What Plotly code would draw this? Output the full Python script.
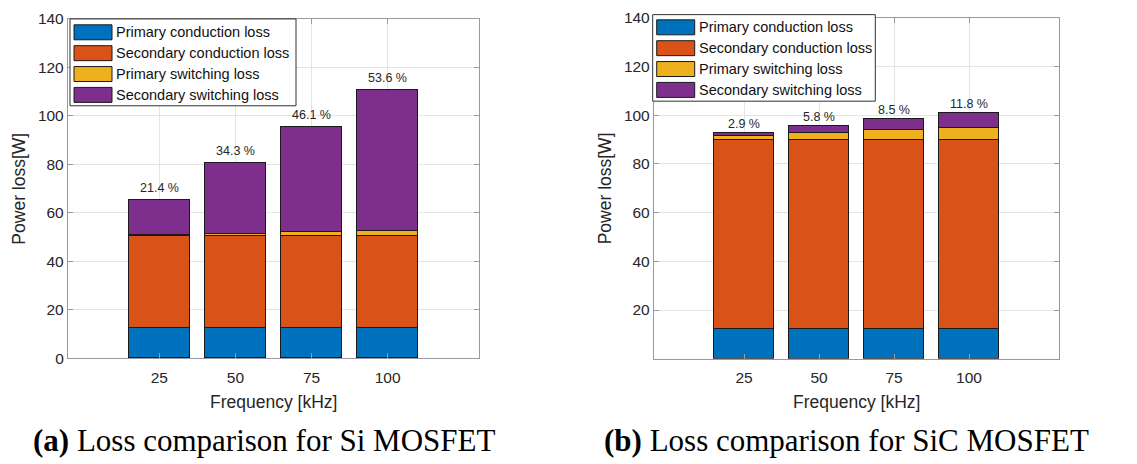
import plotly.graph_objects as go

# ---- data -------------------------------------------------------------
freq_khz = [25, 50, 75, 100]
freq_labels = ["25", "50", "75", "100"]

loss_names = [
    "Primary conduction loss",
    "Secondary conduction loss",
    "Primary switching loss",
    "Secondary switching loss",
]
loss_colors = ["#0072BD", "#D95319", "#EDB120", "#7E2F8E"]

# Si MOSFET losses [W]
si_primary_cond = [12.6, 12.6, 12.6, 12.6]
si_secondary_cond = [37.9, 37.9, 37.9, 37.9]
si_primary_sw = [0.3, 0.9, 1.5, 2.2]
si_secondary_sw = [14.7, 29.1, 43.6, 58.0]
si_share_labels = ["21.4 %", "34.3 %", "46.1 %", "53.6 %"]

# SiC MOSFET losses [W]
sic_primary_cond = [12.2, 12.2, 12.2, 12.2]
sic_secondary_cond = [77.7, 77.7, 77.7, 77.7]
sic_primary_sw = [1.5, 2.9, 4.1, 5.1]
sic_secondary_sw = [1.5, 3.0, 4.5, 6.0]
sic_share_labels = ["2.9 %", "5.8 %", "8.5 %", "11.8 %"]

y_ticks_si = [0, 20, 40, 60, 80, 100, 120, 140]
y_ticks_sic = [20, 40, 60, 80, 100, 120, 140]

# ---- page geometry (pixels) -------------------------------------------
W, H = 1137, 464
# vertical placement of the drawing area inside the page
TOP_OFF, DRAW_H = 8.35, 447.8


def px(x):
    return x / W


def py(y):
    return 1 - (y - TOP_OFF) / DRAW_H


SANS = "Liberation Sans, Arial, Helvetica, sans-serif"
SERIF = "Liberation Serif, Times New Roman, serif"
TXT = "#262626"
AXC = "#9a9a9a"
GRID = "#e4e4e4"

panels = [
    dict(xa="x", ya="y", x0=68, x1=479, y0=18.3, y1=358.3,
         series=[si_primary_cond, si_secondary_cond, si_primary_sw, si_secondary_sw],
         shares=si_share_labels, share_shift=3, yticks=y_ticks_si,
         legend_box=(70, 18.3, 296, 105.3), legend_row0=13.4,
         caption=("(a)", " Loss comparison for Si MOSFET"), caption_x=264),
    dict(xa="x2", ya="y2", x0=654, x1=1059, y0=17.3, y1=358.7,
         series=[sic_primary_cond, sic_secondary_cond, sic_primary_sw, sic_secondary_sw],
         shares=sic_share_labels, share_shift=0, yticks=y_ticks_sic,
         legend_box=(652.7, 14, 875.3, 100.7), legend_row0=12.7,
         caption=("(b)", " Loss comparison for SiC MOSFET"), caption_x=846),
]

fig = go.Figure()
shapes = []
annotations = []

for i, p in enumerate(panels):
    # stacked bars
    for name, color, vals in zip(loss_names, loss_colors, p["series"]):
        fig.add_trace(go.Bar(
            x=freq_khz, y=vals, name=name, width=20,
            marker=dict(color=color, line=dict(color="#1a1a1a", width=1)),
            xaxis=p["xa"], yaxis=p["ya"], showlegend=False,
        ))

    # share labels above each bar
    totals = [sum(v) for v in zip(*p["series"])]
    for f, tot, lab in zip(freq_khz, totals, p["shares"]):
        annotations.append(dict(
            x=f, y=tot, xref=p["xa"], yref=p["ya"], text=lab, showarrow=False,
            yanchor="bottom", yshift=p["share_shift"],
            font=dict(family=SANS, size=12.5, color=TXT),
        ))

    # legend drawn in the upper-left corner
    bx0, by0, bx1, by1 = p["legend_box"]
    shapes.append(dict(type="rect", xref="paper", yref="paper",
                       x0=px(bx0), x1=px(bx1), y0=py(by0), y1=py(by1),
                       fillcolor="white", line=dict(color="#303030", width=1)))
    for k, (name, color) in enumerate(zip(loss_names, loss_colors)):
        cy = by0 + p["legend_row0"] + 20.9 * k
        shapes.append(dict(type="rect", xref="paper", yref="paper",
                           x0=px(bx0 + 4), x1=px(bx0 + 42),
                           y0=py(cy - 7.5), y1=py(cy + 7.5),
                           fillcolor=color, line=dict(color="#1a1a1a", width=1)))
        annotations.append(dict(
            x=px(bx0 + 44), y=py(cy), xref="paper", yref="paper", text=name,
            showarrow=False, xanchor="left", yanchor="middle",
            font=dict(family=SANS, size=14.5, color="#111111"),
        ))

    # axis titles
    xc = (p["x0"] + p["x1"]) / 2
    annotations.append(dict(
        x=px(xc), y=py(402), xref="paper", yref="paper", text="Frequency [kHz]",
        showarrow=False, xanchor="center", yanchor="middle",
        font=dict(family=SANS, size=17.5, color=TXT),
    ))
    annotations.append(dict(
        x=px(p["x0"] - 49), y=py((p["y0"] + p["y1"]) / 2), xref="paper", yref="paper",
        text="Power loss[W]", textangle=-90, showarrow=False,
        xanchor="center", yanchor="middle",
        font=dict(family=SANS, size=17.5, color=TXT),
    ))

    # caption
    tag, rest = p["caption"]
    annotations.append(dict(
        x=px(p["caption_x"]), y=py(441), xref="paper", yref="paper",
        text=f"<b>{tag}</b>{rest}", showarrow=False,
        xanchor="center", yanchor="middle",
        font=dict(family=SERIF, size=31, color="black"),
    ))

    axis_common = dict(
        showline=True, linecolor=AXC, linewidth=1.3, mirror="ticks",
        ticks="inside", ticklen=5, tickcolor=AXC, tickwidth=1,
        showgrid=True, gridcolor=GRID, gridwidth=1, zeroline=False,
        tickfont=dict(family=SANS, size=15.5, color=TXT),
    )
    xkey = "xaxis" if i == 0 else "xaxis2"
    ykey = "yaxis" if i == 0 else "yaxis2"
    fig.update_layout(**{
        xkey: dict(axis_common, domain=[px(p["x0"]), px(p["x1"])], range=[-5, 130],
                   tickvals=freq_khz, ticktext=freq_labels, anchor=p["ya"],
                   ticklabelstandoff=5),
        ykey: dict(axis_common, domain=[py(p["y1"]), py(p["y0"])], range=[0, 140],
                   tickvals=p["yticks"], anchor=p["xa"]),
    })

fig.update_layout(
    width=W, height=H, barmode="stack", bargap=0,
    margin=dict(l=0, r=0, t=0, b=0),
    paper_bgcolor="white", plot_bgcolor="white",
    shapes=shapes, annotations=annotations,
    showlegend=False,
)

fig.write_html("out.html")
